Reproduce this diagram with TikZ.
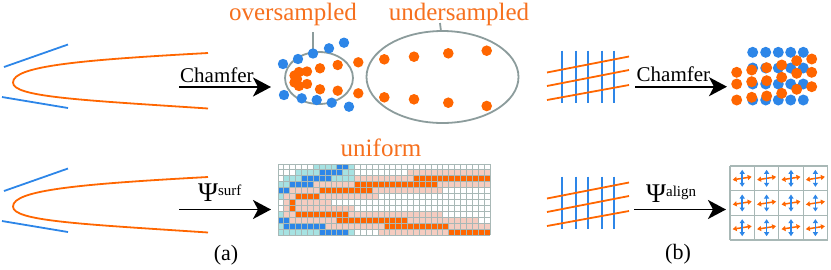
\documentclass[tikz,border=0pt]{standalone}
\usepackage{fontspec}
\setmainfont{Liberation Serif}
\usetikzlibrary{arrows.meta,shapes.geometric}
\definecolor{cor}{RGB}{255,102,0}
\definecolor{ctx}{RGB}{246,112,30}
\definecolor{cbl}{RGB}{45,134,232}
\definecolor{cte}{RGB}{166,226,226}
\definecolor{cpk}{RGB}{245,204,192}
\definecolor{cgr}{RGB}{168,184,182}
\definecolor{cel}{RGB}{140,156,156}
\newcommand\gridrow[2]{\foreach \gcol/\ga/\gb in {#2}{\fill[\gcol] ({278+\ga*5.89},{164+#1*5.92}) rectangle ({278+(\gb+1)*5.89},{164+(#1+1)*5.92});}}
\tikzset{
  bline/.style={cbl, line width=1.8},
  oline/.style={cor, line width=1.8},
  bigarrow/.style={line width=1.8, -{Stealth[length=18,width=19,inset=5]}},
  otext/.style={ctx, inner sep=0, font=\fontsize{25}{25}\selectfont},
  ktext/.style={black, inner sep=0, font=\fontsize{21}{21}\selectfont},
  elli/.style={ellipse, draw=cel, line width=1.8, inner sep=0},
  lead/.style={cel, line width=1.8},
  bdot/.style={cbl},
  odot/.style={cor},
  smarr/.style={line width=1.5, {Triangle[length=4,width=5]}-{Triangle[length=4,width=5]}}
}
\begin{document}
\begin{tikzpicture}[x=1pt,y=-1pt]
\useasboundingbox (0,0) rectangle (831,269);
% ---------------- panel (a) left shapes
\foreach \dy in {0,124}{
  \begin{scope}[shift={(0,\dy)}]
    \draw[bline] (4,67) -- (68,44.5);
    \draw[bline] (2,97) -- (68,108);
    \draw[oline] (208,53) .. controls (80,60) and (13,66) .. (13,82.5) .. controls (13,97) and (80,100) .. (208,108.5);
  \end{scope}
}
% arrows (a)
\coordinate (a1s) at (179,87); \coordinate (a1e) at (271,87);
\draw[bigarrow] (a1s) -- (a1e);
\node[ktext, anchor=base west] (cha) at (180,82.5) {Chamfer};
\coordinate (a2s) at (179,209.5); \coordinate (a2e) at (271,209.5);
\draw[bigarrow] (a2s) -- (a2e);
\node[anchor=base west, inner sep=0] (psa) at (198,201) {\fontsize{27}{27}\selectfont Ψ\raisebox{5.5pt}{\fontsize{15}{15}\selectfont surf}};
% ellipses and labels
\node[elli, minimum width=68, minimum height=52] (ov) at (319,78) {};
\node[elli, minimum width=152, minimum height=92] (un) at (442.5,77) {};
\node[otext, anchor=base] (lov) at (293,20) {oversampled};
\node[otext, anchor=base] (lun) at (459,20) {undersampled};
\coordinate (ovt) at (313,32);
\coordinate (unt) at (440,23);
\draw[lead] (ovt) -- (ov.103);
\draw[lead] (unt) -- (un.92);
% dots oversampled
\foreach \p in {(283,64),(298,59),(313,53.5),(329,48.3),(344,42.7),(284,95),(301.7,98.3),(316.7,100),(331.7,102.7),(349,106.7)}
  \fill[bdot] \p circle (5.2);
\foreach \p in {(294.5,75.5),(294.5,82.5),(299,72),(299,86),(297,79),(307,71.5),(307,84),(320,68.3),(320,89.3),(337.7,65),(337.7,90.7),(358.3,62.3),(358.3,93.3)}
  \fill[odot] \p circle (5.2);
% dots undersampled
\foreach \p in {(384.3,59.3),(414,56.7),(448.3,53.3),(486.7,50.7),(384.3,97.3),(414,99.3),(448.3,102.7),(486.7,106)}
  \fill[odot] \p circle (5.3);
% uniform grid
\node[otext, anchor=base] (luni) at (381,156.5) {uniform};
\fill[white] (278,164) rectangle (490,235);
\gridrow{0}{cte/6/9,cbl/10/11,cte/12/12}
\gridrow{1}{cte/3/6,cbl/7/10,cte/11/12,cpk/22/35}
\gridrow{2}{cte/1/3,cbl/4/8,cte/9/12,cpk/13/22,cor/23/35}
\gridrow{3}{cte/0/1,cbl/2/5,cpk/6/12,cor/13/26,cpk/27/35}
\gridrow{4}{cbl/0/1,cpk/2/6,cor/7/15,cpk/16/27}
\gridrow{5}{cte/0/0,cpk/1/2,cor/3/6,cpk/7/16}
\gridrow{6}{cpk/1/1,cor/2/2,cpk/3/8}
\gridrow{7}{cpk/1/1,cor/2/2,cpk/3/12}
\gridrow{8}{cte/0/0,cpk/1/2,cor/3/11,cpk/12/27}
\gridrow{9}{cbl/0/1,cpk/2/9,cor/10/21,cpk/22/33}
\gridrow{10}{cte/0/0,cbl/1/7,cpk/8/17,cor/18/28,cpk/29/35}
\gridrow{11}{cte/0/6,cbl/7/11,cte/12/12,cpk/17/28,cor/29/35}
\foreach \i in {0,...,36} \draw[cgr, line width=1] ({278+\i*5.89},164) -- ++(0,71.04);
\foreach \j in {0,...,12} \draw[cgr, line width=1] (278,{164+\j*5.92}) -- ++(212.04,0);
\node[inner sep=0, anchor=base, font=\fontsize{22}{22}\selectfont] (la) at (226,260) {(a)};
% ---------------- panel (b)
\foreach \dy in {0,126}{
  \begin{scope}[shift={(0,\dy)}]
    \foreach \x in {562.3,575.7,588.3,601.7,614.3} \draw[bline] (\x,50.7) -- (\x,103.3);
    \draw[oline] (547,72.5) -- (629,56.5);
    \draw[oline] (547,86) -- (629,70);
    \draw[oline] (547,100) -- (629,85);
  \end{scope}
}
\coordinate (b1s) at (635,86.7); \coordinate (b1e) at (727,86.7);
\draw[bigarrow] (b1s) -- (b1e);
\node[ktext, anchor=base west] (chb) at (636.5,81.5) {Chamfer};
\coordinate (b2s) at (634,209.5); \coordinate (b2e) at (726,209.5);
\draw[bigarrow] (b2s) -- (b2e);
\node[anchor=base west, inner sep=0] (psb) at (646,202) {\fontsize{27}{27}\selectfont Ψ\raisebox{5.5pt}{\fontsize{15}{15}\selectfont align}};
% chamfer dots (b)
\foreach \x in {752.7,765.7,778.3,790.7,803.3}
  \foreach \y in {52.3,68,84,100}
    \fill[bdot] (\x,\y) circle (5.5);
\foreach \p in {(736.7,72.3),(736.7,84),(736.7,100),(751.7,70),(751.7,81.7),(751.7,97.3),(766.7,67.7),(766.7,80.7),(766.7,96),(781.7,65),(781.7,77.3),(781.7,93.3),(796.7,60.7),(796.7,73.3),(796.7,89.3),(811.7,59),(811.7,72.3),(811.7,86.7)}
  \fill[odot] \p circle (5.5);
% align grid (b)
\fill[white] (730,166) rectangle (827.6,240);
\foreach \i in {0,...,3}
  \foreach \j in {0,...,2}{
    \pgfmathsetmacro\cx{730+24.4*(\i+0.5)}
    \pgfmathsetmacro\cy{166+24.67*(\j+0.5)}
    \draw[smarr, cor] (\cx-9.5,\cy+1.5) -- (\cx+9.5,\cy-1.5);
    \draw[smarr, cbl] (\cx,\cy-8.5) -- (\cx,\cy+8.5);
  }
\foreach \i in {0,...,4} \draw[cgr, line width=1.2] ({730+\i*24.4},166) -- ++(0,74);
\foreach \j in {0,...,3} \draw[cgr, line width=1.2] (730,{166+\j*24.67}) -- ++(97.6,0);
\node[inner sep=0, anchor=base, font=\fontsize{22}{22}\selectfont] (lb) at (678,259) {(b)};
\end{tikzpicture}
\end{document}
